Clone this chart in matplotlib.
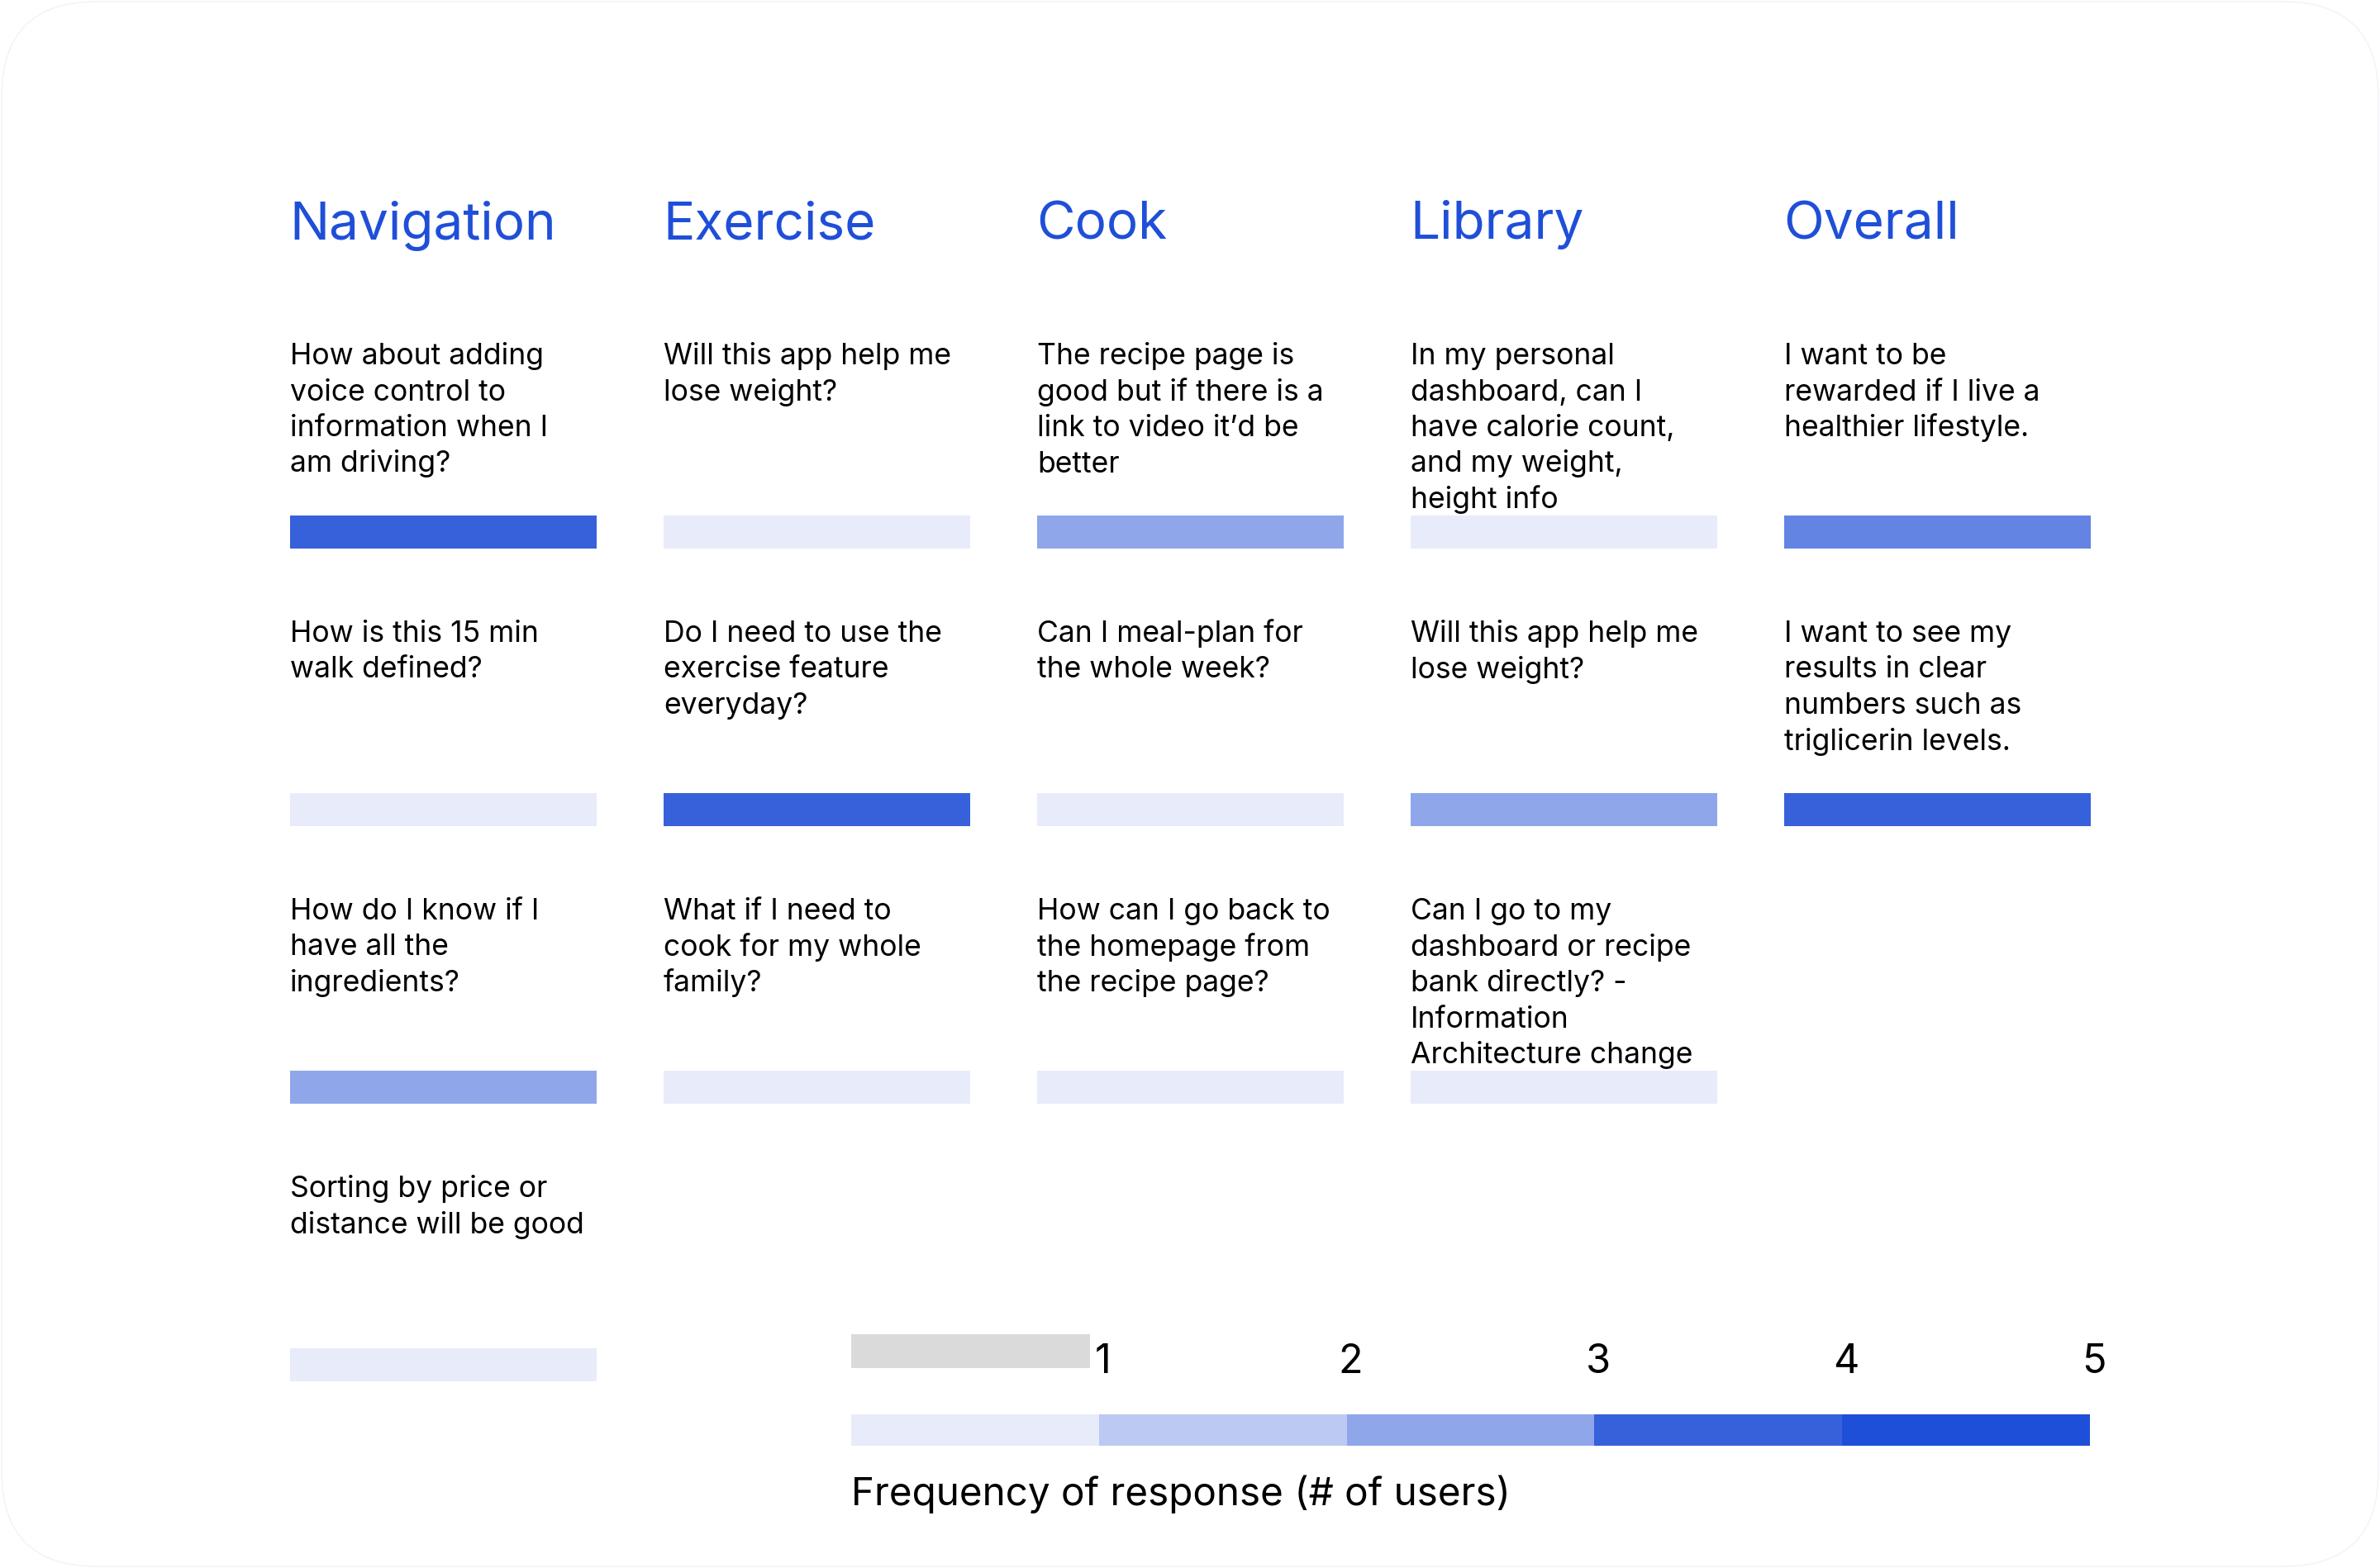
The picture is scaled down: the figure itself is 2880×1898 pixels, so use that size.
import numpy as np
import matplotlib.pyplot as plt
from matplotlib.patches import FancyBboxPatch, Rectangle
from matplotlib.colors import to_rgb

plt.rcParams['font.family'] = ['Inter', 'DejaVu Sans']

# ---- data -------------------------------------------------------------
categories = ["Navigation", "Exercise", "Cook", "Library", "Overall"]

navigation_questions = [
    "How about adding\nvoice control to\ninformation when I\nam driving?",
    "How is this 15 min\nwalk defined?",
    "How do I know if I\nhave all the\ningredients?",
    "Sorting by price or\ndistance will be good",
]
navigation_counts = [4, 1, 3, 1]

exercise_questions = [
    "Will this app help me\nlose weight?",
    "Do I need to use the\nexercise feature\neveryday?",
    "What if I need to\ncook for my whole\nfamily?",
]
exercise_counts = [1, 4, 1]

cook_questions = [
    "The recipe page is\ngood but if there is a\nlink to video it\u2019d be\nbetter",
    "Can I meal-plan for\nthe whole week?",
    "How can I go back to\nthe homepage from\nthe recipe page?",
]
cook_counts = [3, 1, 1]

library_questions = [
    "In my personal\ndashboard, can I\nhave calorie count,\nand my weight,\nheight info",
    "Will this app help me\nlose weight?",
    "Can I go to my\ndashboard or recipe\nbank directly? -\nInformation\nArchitecture change",
]
library_counts = [1, 3, 1]

overall_questions = [
    "I want to be\nrewarded if I live a\nhealthier lifestyle.",
    "I want to see my\nresults in clear\nnumbers such as\ntriglicerin levels.",
]
overall_counts = [3.5, 4]

legend_levels = [1, 2, 3, 4, 5]
legend_title = "Frequency of response (# of users)"

questions = [navigation_questions, exercise_questions, cook_questions,
             library_questions, overall_questions]
counts = [navigation_counts, exercise_counts, cook_counts,
          library_counts, overall_counts]

# ---- style ------------------------------------------------------------
level_colors = ["#e8ebf9", "#bccaf3", "#8fa7ea", "#3760db", "#1d4fd8"]
header_color = "#1f4fd8"

W, H = 2880, 1898
col_x0, col_step, bar_w = 351, 452, 371
bar_top0, row_step, bar_h = 624, 336, 40
first_baseline_gap = 183   # from first text baseline down to bar top
line_h = 43.5


def level_color(v):
    """Interpolate between legend colours for non-integer counts."""
    rgb = np.array([to_rgb(c) for c in level_colors])
    return tuple(np.array([np.interp(v, legend_levels, rgb[:, i]) for i in range(3)]))


fig = plt.figure(figsize=(W / 100, H / 100), dpi=100)
ax = fig.add_axes([0, 0, 1, 1])
ax.set_xlim(0, W)
ax.set_ylim(H, 0)
ax.axis("off")

# faint card outline
card = FancyBboxPatch((2, 2), W - 4, H - 4, boxstyle="round,pad=0,rounding_size=115",
                      fc="white", ec="#f2f2f8", lw=1.0, zorder=0)
ax.add_patch(card)

for c, (cat, qs, vals) in enumerate(zip(categories, questions, counts)):
    x = col_x0 + c * col_step
    ax.text(x - 1, 289, cat, fontsize=46, color=header_color, va="baseline", ha="left")
    tops = [bar_top0 + r * row_step for r in range(len(vals))]
    ax.bar([x] * len(vals), [bar_h] * len(vals), width=bar_w, bottom=tops,
           align="edge", color=[level_color(v) for v in vals], linewidth=0, zorder=1)
    for r, q in enumerate(qs):
        base = tops[r] - first_baseline_gap
        for i, line in enumerate(q.split("\n")):
            ax.text(x, base + i * line_h, line, fontsize=25.6, color="black",
                    va="baseline", ha="left", zorder=2)

# ---- legend -----------------------------------------------------------
leg_x0, leg_x1 = 1030, 2529
seg_w = (leg_x1 - leg_x0) / len(legend_levels)
ax.add_patch(Rectangle((leg_x0, 1615), 289, 41, fc="#dadada", ec="none", zorder=1))
ax.bar([leg_x0 + i * seg_w for i in range(len(legend_levels))],
       [38] * len(legend_levels), width=seg_w, bottom=1712, align="edge",
       color=[level_color(v) for v in legend_levels], linewidth=0)
for i, lv in enumerate(legend_levels):
    ax.text(leg_x0 + (i + 1) * seg_w + 5, 1662, str(lv), fontsize=35, color="black",
            ha="center", va="baseline", zorder=2)
ax.text(leg_x0, 1822, legend_title, fontsize=34.3, color="black", ha="left", va="baseline")

fig.savefig("out.png", dpi=100, facecolor="white")
